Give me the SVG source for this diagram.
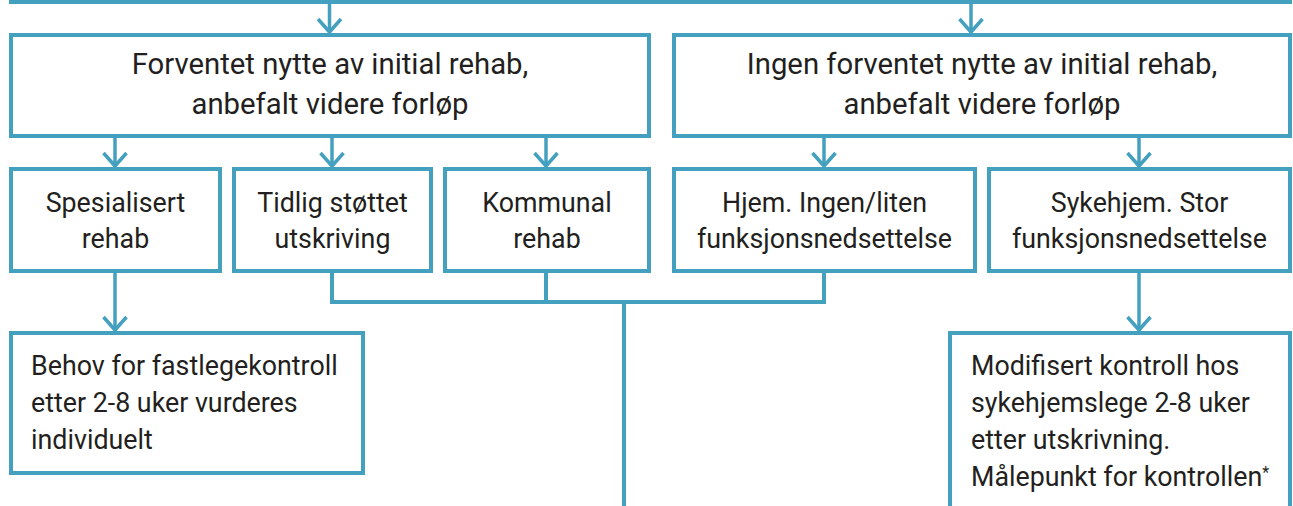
<svg xmlns="http://www.w3.org/2000/svg" width="1293" height="506" viewBox="0 0 1293 506">
<defs>
<style>
.box{fill:#fff;stroke:#44A0BF;stroke-width:4}
.con{fill:none;stroke:#44A0BF;stroke-width:4}
.arr{fill:none;stroke:#44A0BF;stroke-width:3.5;marker-end:url(#ah)}
text{font-family:Roboto,"Liberation Sans",sans-serif;fill:#231F20}
.t1{font-size:29.3px;text-anchor:middle}
.t2{font-size:26.8px;text-anchor:middle}
.t3{font-size:26.8px}
</style>
<marker id="ah" markerUnits="userSpaceOnUse" markerWidth="40" markerHeight="40" viewBox="-20 -20 40 40" refX="0" refY="0" orient="auto" overflow="visible">
<path d="M-13,-11.5 L0,0 L-13,11.5" fill="none" stroke="#44A0BF" stroke-width="3.5"/>
</marker>
</defs>
<rect width="1293" height="506" fill="#fff"/>
<g id="top"><rect class="box" x="11" y="-100" width="1279" height="102"/></g>
<g id="connectors">
<path class="arr" d="M329.5,4 V32"/>
<path class="arr" d="M971,4 V32"/>
<path class="arr" d="M115,138 V166"/>
<path class="arr" d="M332,138 V166"/>
<path class="arr" d="M546,138 V166"/>
<path class="arr" d="M824,138 V166"/>
<path class="arr" d="M1139,138 V166"/>
<path class="arr" d="M115,273 V330"/>
<path class="arr" d="M1139,273 V330"/>
<path class="con" d="M332,271 V302 H824 V271 M546,271 V302 M624,302 V506"/>
</g>
<g id="n1"><rect class="box" x="11" y="35" width="638" height="101"/>
<text class="t1" x="330" y="74">Forventet nytte av initial rehab,</text>
<text class="t1" x="330" y="114">anbefalt videre forløp</text></g>
<g id="n2"><rect class="box" x="674" y="35" width="616" height="101"/>
<text class="t1" x="982" y="74">Ingen forventet nytte av initial rehab,</text>
<text class="t1" x="982" y="114">anbefalt videre forløp</text></g>
<g id="n3"><rect class="box" x="11" y="169" width="209" height="102"/>
<text class="t2" x="115.5" y="212">Spesialisert</text>
<text class="t2" x="115.5" y="248">rehab</text></g>
<g id="n4"><rect class="box" x="234" y="169" width="197" height="102"/>
<text class="t2" x="332.5" y="212">Tidlig støttet</text>
<text class="t2" x="332.5" y="248">utskriving</text></g>
<g id="n5"><rect class="box" x="445" y="169" width="204" height="102"/>
<text class="t2" x="547" y="212">Kommunal</text>
<text class="t2" x="547" y="248">rehab</text></g>
<g id="n6"><rect class="box" x="674" y="169" width="301" height="102"/>
<text class="t2" x="824.5" y="212">Hjem. Ingen/liten</text>
<text class="t2" x="824.5" y="248">funksjonsnedsettelse</text></g>
<g id="n7"><rect class="box" x="989" y="169" width="301" height="102"/>
<text class="t2" x="1139.5" y="212">Sykehjem. Stor</text>
<text class="t2" x="1139.5" y="248">funksjonsnedsettelse</text></g>
<g id="n8"><rect class="box" x="11" y="333" width="352" height="140"/>
<text class="t3" x="31" y="375">Behov for fastlegekontroll</text>
<text class="t3" x="31" y="412">etter 2-8 uker vurderes</text>
<text class="t3" x="31" y="449">individuelt</text></g>
<g id="n9"><rect class="box" x="950" y="333" width="340" height="240"/>
<text class="t3" x="971" y="375">Modifisert kontroll hos</text>
<text class="t3" x="971" y="412">sykehjemslege 2-8 uker</text>
<text class="t3" x="971" y="449">etter utskrivning.</text>
<text class="t3" x="971" y="486">Målepunkt for kontrollen<tspan font-size="16" dy="-8">*</tspan></text></g>
</svg>
